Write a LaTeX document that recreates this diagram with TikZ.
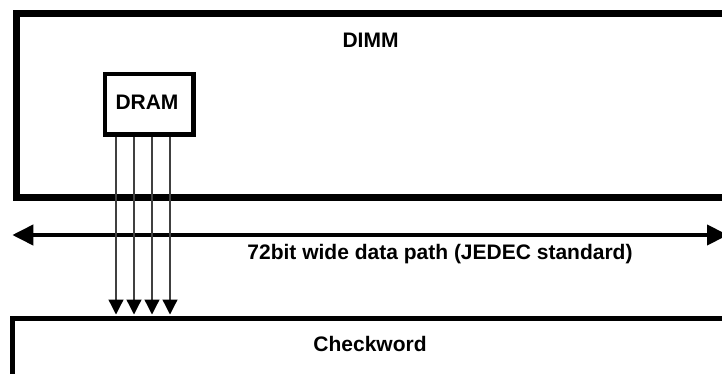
\documentclass[tikz,border=0pt]{standalone}
\usepackage{fontspec}
\setmainfont{Liberation Sans}
\usetikzlibrary{arrows.meta}
\tikzset{
  lbl/.style={font=\fontsize{21}{25}\selectfont\bfseries, inner sep=0pt, anchor=base},
  boxframe/.style={draw=black, fill=none, inner sep=0pt, anchor=north west},
  wire/.style={draw=black!75, line width=1.3pt, -{Triangle[width=15pt,length=15pt,color=black]}},
  bus/.style={draw=black, line width=4pt, {Triangle[width=20pt,length=21pt]}-{Triangle[width=20pt,length=21pt]}}
}
\begin{document}
\begin{tikzpicture}[x=1pt, y=-1pt]
  \useasboundingbox (0,0) rectangle (722,374);
  \clip (0,0) rectangle (722,374);

  % module outline, runs past the right edge
  \node[boxframe, line width=7pt, minimum width=740pt, minimum height=183pt] (dimm) at (12.5,10.5) {};
  \node[lbl] (dimmlabel) at (370.5,47.3) {DIMM};

  % memory chip
  \node[boxframe, line width=4.5pt, minimum width=88.5pt, minimum height=60.5pt] (dram) at (102.5,72) {};
  \node[lbl] (dramlabel) at (147,110) {DRAM};

  % checkword block, runs past the right and bottom edges
  \node[boxframe, line width=5pt, minimum width=740pt, minimum height=90pt] (check) at (10,315.5) {};
  \node[lbl] (checklabel) at (370,351) {Checkword};

  % data path arrow
  \coordinate (busL) at (12.3,235);
  \coordinate (busR) at (728,235);
  \draw[bus] (busL) -- (busR);
  \node[lbl] (buslabel) at (440,259.3) {72bit wide data path (JEDEC standard)};

  % four data lines from the chip down to the checkword
  \foreach \xx in {116,134,152,170}
    \draw[wire] (dram.south -| {\xx,0}) -- ([yshift=1pt]check.north -| {\xx,0});
\end{tikzpicture}
\end{document}
